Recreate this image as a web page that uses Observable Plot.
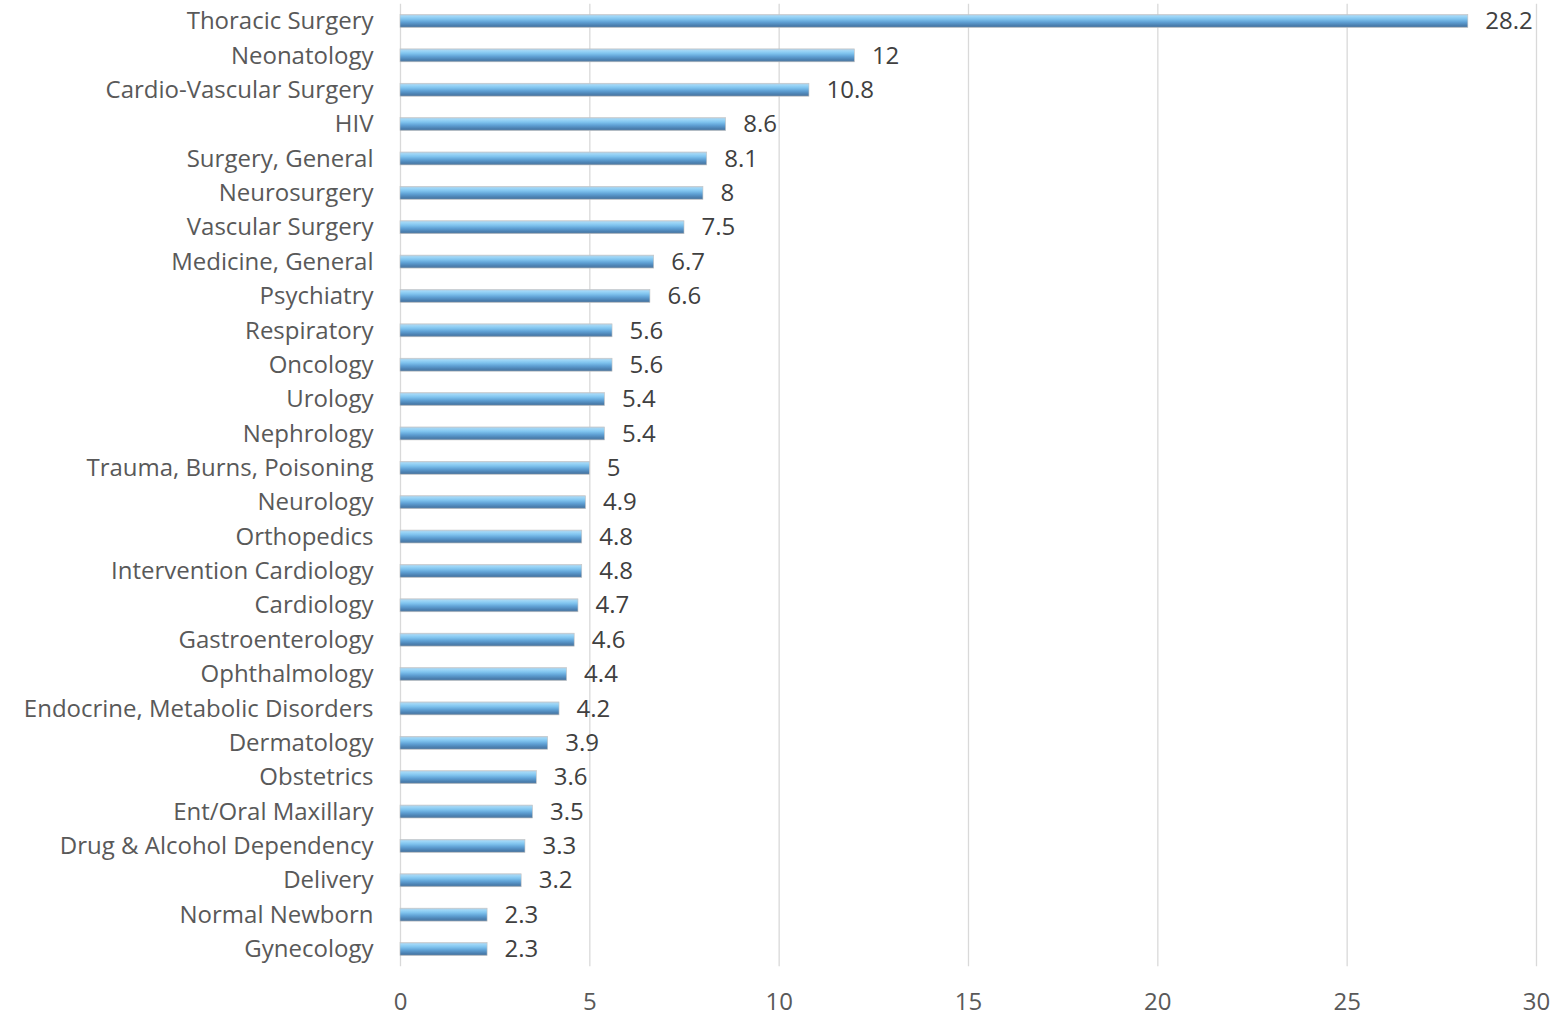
<!DOCTYPE html>
<html>
<head>
<meta charset="utf-8">
<script src="https://cdn.jsdelivr.net/npm/d3@7"></script>
<script src="https://cdn.jsdelivr.net/npm/@observablehq/plot@0.6"></script>
<style>
  html, body { margin: 0; padding: 0; background: #fff; }
  #chart { width: 1557px; height: 1015px; }
  svg { font-family: "Open Sans", sans-serif; }
</style>
</head>
<body>
<div id="chart"></div>
<script>
const categories = [
  "Thoracic Surgery", "Neonatology", "Cardio-Vascular Surgery", "HIV", "Surgery, General",
  "Neurosurgery", "Vascular Surgery", "Medicine, General", "Psychiatry", "Respiratory",
  "Oncology", "Urology", "Nephrology", "Trauma, Burns, Poisoning", "Neurology",
  "Orthopedics", "Intervention Cardiology", "Cardiology", "Gastroenterology", "Ophthalmology",
  "Endocrine, Metabolic Disorders", "Dermatology", "Obstetrics", "Ent/Oral Maxillary",
  "Drug & Alcohol Dependency", "Delivery", "Normal Newborn", "Gynecology"
];
const values = [
  28.2, 12, 10.8, 8.6, 8.1,
  8, 7.5, 6.7, 6.6, 5.6,
  5.6, 5.4, 5.4, 5, 4.9,
  4.8, 4.8, 4.7, 4.6, 4.4,
  4.2, 3.9, 3.6, 3.5,
  3.3, 3.2, 2.3, 2.3
];
const xTicks = [0, 5, 10, 15, 20, 25, 30];

const data = categories.map((c, i) => ({category: c, value: values[i]}));

const FS = 24;

const svg = Plot.plot({
  width: 1557,
  height: 1015,
  marginLeft: 400,
  marginRight: 21,
  marginTop: 3.8,
  marginBottom: 48.8,
  style: {fontSize: FS + "px", fontFamily: "'Open Sans', sans-serif", background: "#fff"},
  x: {domain: [0, 30], ticks: xTicks, grid: false},
  y: {domain: categories, padding: 0, round: false},
  marks: [
    Plot.ruleX(xTicks, {stroke: "#d9d9d9", strokeWidth: 1.3, strokeOpacity: 1}),
    Plot.barX(data, {
      x: "value", y: "category",
      fill: "url(#barGrad)",
      insetTop: 10.7, insetBottom: 10.7,
      stroke: "#c4c4c4", strokeWidth: 0.6
    }),
    Plot.text(data, {
      x: "value", y: "category", text: d => String(d.value),
      textAnchor: "start", dx: 17, fill: "#404040", fontSize: FS
    }),
    Plot.axisY({tickSize: 0, tickPadding: 27, fontSize: FS, color: "#595959", label: null}),
    Plot.axisX({ticks: xTicks, tickSize: 0, tickPadding: 26, fontSize: FS, color: "#595959", label: null})
  ]
});

const ns = "http://www.w3.org/2000/svg";
const defs = document.createElementNS(ns, "defs");
const grad = document.createElementNS(ns, "linearGradient");
grad.setAttribute("id", "barGrad");
grad.setAttribute("x1", "0"); grad.setAttribute("y1", "0");
grad.setAttribute("x2", "0"); grad.setAttribute("y2", "1");
[["0%", "#b9cfe0"], ["15%", "#9dd6f7"], ["35%", "#7fc3ee"], ["60%", "#5e9fd3"], ["85%", "#4a7eae"], ["100%", "#5b7ea0"]].forEach(([o, c]) => {
  const s = document.createElementNS(ns, "stop");
  s.setAttribute("offset", o);
  s.setAttribute("stop-color", c);
  grad.appendChild(s);
});
defs.appendChild(grad);
svg.insertBefore(defs, svg.firstChild);

document.getElementById("chart").appendChild(svg);
</script>
</body>
</html>
